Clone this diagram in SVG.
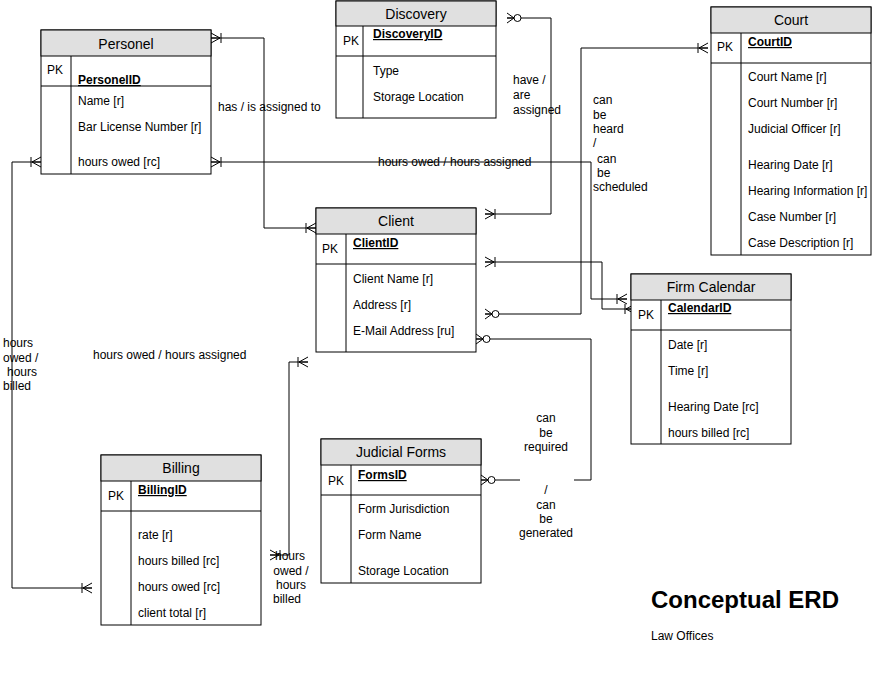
<svg xmlns="http://www.w3.org/2000/svg" width="872" height="700" viewBox="0 0 872 700">
<style>
text{font-family:"Liberation Sans",Arial,sans-serif;font-size:12px;fill:#000}
.h{font-size:14px;text-anchor:middle}
.id{font-weight:bold;text-decoration:underline}
.box{fill:#fff;stroke:#000;stroke-width:1}
.hd{fill:#e0e0e0;stroke:#000;stroke-width:1}
.ln{fill:none;stroke:#000;stroke-width:1}
.c{text-anchor:middle}
.conn path{fill:none;stroke:#000;stroke-width:1}
</style>
<defs>
<marker id="mm" viewBox="-12 -6 14 12" refX="0" refY="0" markerWidth="14" markerHeight="12" markerUnits="userSpaceOnUse" orient="auto-start-reverse" overflow="visible">
<path d="M0,-5 L-9,0 L0,5 M-9,0 H0 M-10,-5 V5" fill="none" stroke="#000" stroke-width="1"/>
</marker>
<marker id="zm" viewBox="-16 -6 17 12" refX="0" refY="0" markerWidth="17" markerHeight="12" markerUnits="userSpaceOnUse" orient="auto-start-reverse" overflow="visible">
<path d="M0,-5 L-7,0 L0,5 M-7,0 H0" fill="none" stroke="#000" stroke-width="1"/>
<circle cx="-10.5" cy="0" r="3.5" fill="#fff" stroke="#000" stroke-width="1"/>
</marker>
</defs>
<rect width="872" height="700" fill="#fff"/>

<g id="connectors" class="conn">
<path d="M211 38 H264 V228 H316" marker-start="url(#mm)" marker-end="url(#mm)"/>
<path d="M211 162 H591 V299 H627" marker-start="url(#mm)" marker-end="url(#mm)"/>
<path d="M507 18 H551 V214 H485" marker-start="url(#zm)" marker-end="url(#mm)"/>
<path d="M708 48 H581 V314 H485" marker-start="url(#mm)" marker-end="url(#zm)"/>
<path d="M485 262 H602 V309 H635" marker-start="url(#mm)" marker-end="url(#mm)"/>
<path d="M476 339 H591 V480 H574" marker-start="url(#zm)"/>
<path d="M520 480 H481" marker-end="url(#zm)"/>
<path d="M41 162 H12 V588 H92" marker-start="url(#mm)" marker-end="url(#mm)"/>
<path d="M270 555 H289 V362 H308" marker-start="url(#mm)" marker-end="url(#mm)"/>
</g>

<g id="labels">
<text x="218" y="111">has / is assigned to</text>
<text x="378" y="166">hours owed / hours assigned</text>
<text x="513" y="84">have /</text>
<text x="513" y="99">are</text>
<text x="513" y="114">assigned</text>
<text x="593" y="104">can</text>
<text x="593" y="119">be</text>
<text x="593" y="133">heard</text>
<text x="593" y="147">/</text>
<text x="597" y="163">can</text>
<text x="597" y="177">be</text>
<text x="593" y="191">scheduled</text>
<text x="93" y="359">hours owed / hours assigned</text>
<text x="3" y="347">hours</text>
<text x="3" y="362">owed /</text>
<text x="7" y="376">hours</text>
<text x="3" y="390">billed</text>
<text class="c" x="290" y="560">hours</text>
<text class="c" x="291" y="575">owed /</text>
<text class="c" x="291" y="589">hours</text>
<text class="c" x="287" y="603">billed</text>
<text class="c" x="546" y="422">can</text>
<text class="c" x="546" y="437">be</text>
<text class="c" x="546" y="451">required</text>
<text class="c" x="546" y="494">/</text>
<text class="c" x="546" y="509">can</text>
<text class="c" x="546" y="523">be</text>
<text class="c" x="546" y="537">generated</text>
<text x="651" y="608" style="font-size:24px;font-weight:bold">Conceptual ERD</text>
<text x="651" y="640">Law Offices</text>
</g>

<g id="personel">
<rect class="box" x="41" y="30" width="170" height="144"/>
<rect class="hd" x="41" y="30" width="170" height="26"/>
<path class="ln" d="M41 86 H211 M71 56 V174"/>
<text class="h" x="126" y="49">Personel</text>
<text x="47" y="74">PK</text>
<text class="id" x="78" y="84">PersonelID</text>
<text x="78" y="105">Name [r]</text>
<text x="78" y="131">Bar License Number [r]</text>
<text x="78" y="166">hours owed [rc]</text>
</g>

<g id="discovery">
<rect class="box" x="336" y="1" width="160" height="117"/>
<rect class="hd" x="336" y="1" width="160" height="25"/>
<path class="ln" d="M336 56 H496 M363 26 V118"/>
<text class="h" x="416" y="19">Discovery</text>
<text x="343" y="45">PK</text>
<text class="id" x="373" y="38">DiscoveryID</text>
<text x="373" y="75">Type</text>
<text x="373" y="101">Storage Location</text>
</g>

<g id="court">
<rect class="box" x="711" y="7" width="160" height="248"/>
<rect class="hd" x="711" y="7" width="160" height="26"/>
<path class="ln" d="M711 63 H871 M741 33 V255"/>
<text class="h" x="791" y="25">Court</text>
<text x="717" y="51">PK</text>
<text class="id" x="748" y="46">CourtID</text>
<text x="748" y="81">Court Name [r]</text>
<text x="748" y="107">Court Number [r]</text>
<text x="748" y="133">Judicial Officer [r]</text>
<text x="748" y="169">Hearing Date [r]</text>
<text x="748" y="195">Hearing Information [r]</text>
<text x="748" y="221">Case Number [r]</text>
<text x="748" y="247">Case Description [r]</text>
</g>

<g id="client">
<rect class="box" x="316" y="208" width="160" height="144"/>
<rect class="hd" x="316" y="208" width="160" height="26"/>
<path class="ln" d="M316 264 H476 M346 234 V352"/>
<text class="h" x="396" y="226">Client</text>
<text x="322" y="253">PK</text>
<text class="id" x="353" y="247">ClientID</text>
<text x="353" y="283">Client Name [r]</text>
<text x="353" y="309">Address [r]</text>
<text x="353" y="335">E-Mail Address [ru]</text>
</g>

<g id="firm-calendar">
<rect class="box" x="631" y="274" width="160" height="170"/>
<rect class="hd" x="631" y="274" width="160" height="26"/>
<path class="ln" d="M631 330 H791 M661 300 V444"/>
<text class="h" x="711" y="292">Firm Calendar</text>
<text x="638" y="319">PK</text>
<text class="id" x="668" y="312">CalendarID</text>
<text x="668" y="349">Date [r]</text>
<text x="668" y="375">Time [r]</text>
<text x="668" y="411">Hearing Date  [rc]</text>
<text x="668" y="437">hours billed [rc]</text>
</g>

<g id="billing">
<rect class="box" x="101" y="455" width="160" height="170"/>
<rect class="hd" x="101" y="455" width="160" height="26"/>
<path class="ln" d="M101 511 H261 M131 481 V625"/>
<text class="h" x="181" y="473">Billing</text>
<text x="108" y="500">PK</text>
<text class="id" x="138" y="494">BillingID</text>
<text x="138" y="539">rate [r]</text>
<text x="138" y="565">hours billed [rc]</text>
<text x="138" y="591">hours owed [rc]</text>
<text x="138" y="617">client total [r]</text>
</g>

<g id="judicial-forms">
<rect class="box" x="321" y="439" width="160" height="144"/>
<rect class="hd" x="321" y="439" width="160" height="26"/>
<path class="ln" d="M321 495 H481 M351 465 V583"/>
<text class="h" x="401" y="457">Judicial Forms</text>
<text x="328" y="485">PK</text>
<text class="id" x="358" y="479">FormsID</text>
<text x="358" y="513">Form Jurisdiction</text>
<text x="358" y="539">Form Name</text>
<text x="358" y="575">Storage Location</text>
</g>
</svg>
